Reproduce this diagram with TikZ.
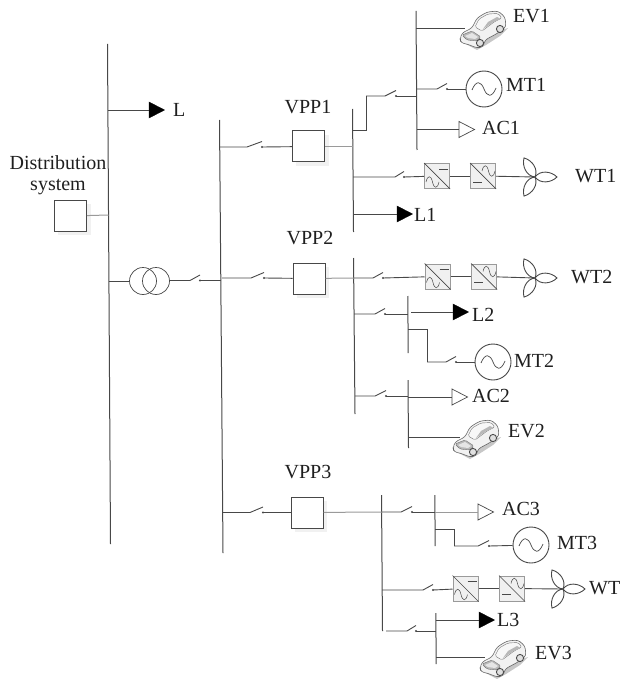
\documentclass[tikz,border=0pt]{standalone}
\usepackage{fontspec}
\setmainfont{Liberation Serif}
\usetikzlibrary{calc}
\definecolor{ln}{HTML}{484848}
\definecolor{lg}{HTML}{9A9A9A}
\definecolor{sh}{HTML}{F1F1F1}
\tikzset{
  wire/.style={draw=ln,line width=0.9pt},
  softwire/.style={draw=lg,line width=1pt},
  busbar/.style={draw=ln,line width=1pt},
  lbl/.style={inner sep=0pt,anchor=west,font=\fontsize{20}{22}\selectfont,text=black!88},
  tlbl/.style={inner sep=0pt,font=\fontsize{20}{22}\selectfont,text=black!88},
  vppbox/.style={draw=ln,line width=1pt,fill=white,minimum width=32pt,minimum height=31pt,inner sep=0pt},
  gen/.style={circle,draw=ln,line width=0.9pt,fill=white,minimum size=36pt,inner sep=0pt},
  xf/.style={circle,draw=ln,line width=0.7pt,minimum size=27pt,inner sep=0pt},
  loadtri/.style={draw=black,fill=black,line width=0.4pt},
  actri/.style={draw=ln,fill=white,line width=0.7pt},
  convbox/.style={draw=lg,line width=1pt,fill=black!6,minimum size=25pt,inner sep=0pt},
  pics/car/.style={code={
    \fill[black!22] (-22,13) -- (-7,21) -- (2,16) -- (16,7) -- (24,-1) -- (14,2) -- cycle;
    \draw[draw=black!60,fill=black!5,line width=0.6pt,rounded corners=3pt] (-24,10) -- (-22,4) -- (-12,-1) -- (-7,-11) -- (3,-17) -- (14,-18) -- (21,-12) -- (22,-2) -- (14,4) -- (1,11) -- (-1,18) -- (-7,19) -- (-17,15) -- (-23,14) -- cycle;
    \draw[draw=black!55,fill=black!3,line width=0.4pt,rounded corners=1.5pt] (-9,-2) -- (-5,-10) -- (4,-15) -- (14,-15.5) -- (18,-11) -- (10,-7) -- (2,-1) -- (-2,2) -- cycle;
    \fill[black!28] (-1,0) -- (4,-7) -- (13,-12) -- (16,-10.5) -- (8,-6) -- cycle;
    \draw[draw=black!55,fill=black!28,line width=0.4pt,rounded corners=1.5pt] (-22,6) -- (-12,2) -- (-3,8) -- (-7,12) -- (-17,11) -- cycle;
    \fill[black!10] (-19,7) -- (-12,4) -- (-6,8) -- (-9,10) -- (-16,9) -- cycle;
    \draw[draw=black!70,fill=black!12,line width=0.9pt] (-4,14) circle (3.6);
    \draw[draw=black!70,fill=black!12,line width=0.9pt] (16,0) circle (3.6);
  }},
  pics/turbine/.style={code={
    \foreach \a in {0,120,240}
      \draw[draw=ln,line width=0.9pt,rotate=\a] (0,0) .. controls (5,-7) and (16,-6) .. (22,0) .. controls (16,6) and (5,7) .. (0,0);
  }},
  pics/sinewave/.style={code={
    \draw[draw=ln,line width=0.7pt] (-12,1) .. controls (-8,-9) and (-3,-8) .. (0,0) .. controls (3,8) and (8,9) .. (12,-1);
  }}
}
% bus: name, x1,y1,x2,y2
\newcommand{\Bus}[5]{\coordinate (#1-a) at (#2,#3); \coordinate (#1-b) at (#4,#5); \draw[busbar] (#1-a) -- (#1-b);}
% switch: name, source x, contact x, end x, y
\newcommand{\Sw}[5]{%
  \coordinate (#1-j) at (#2,#5); \coordinate (#1-a) at (#3,#5); \coordinate (#1-b) at (#4,#5);
  \draw[wire] (#1-j) -- (#1-a) -- ($(#1-b)+(0,-5.5)$);
  \fill[ln] (#1-b) circle (1.1);
}
% load triangles: name, x, y, style
\newcommand{\Tri}[4]{\coordinate (#1) at (#2,#3);
  \draw[#4] (#1) ++(0,-8) -- ++(15.5,8) -- ++(-15.5,8) -- cycle;}
\newcommand{\ConvA}[3]{\node[convbox] (#1) at (#2,#3) {};
  \draw[ln,line width=0.7pt] (#1.north west) -- (#1.south east);
  \draw[ln,line width=0.7pt] ($(#1.center)+(2,-7)$) -- ++(9,0);
  \draw[ln,line width=0.5pt] ($(#1.center)+(-11,6)$) .. controls +(1.5,-7) and +(-1.5,-7) .. ++(6.5,0) .. controls +(1.5,7) and +(-1.5,7) .. ++(6.5,0);}
\newcommand{\ConvB}[3]{\node[convbox] (#1) at (#2,#3) {};
  \draw[ln,line width=0.7pt] (#1.north west) -- (#1.south east);
  \draw[ln,line width=0.7pt] ($(#1.center)+(-10,6)$) -- ++(9,0);
  \draw[ln,line width=0.5pt] ($(#1.center)+(-1,-5)$) .. controls +(1.5,-7) and +(-1.5,-7) .. ++(6.5,0) .. controls +(1.5,7) and +(-1.5,7) .. ++(6.5,0);}
\begin{document}
\begin{tikzpicture}[x=1pt,y=-1pt]
\useasboundingbox (0,0) rectangle (621,679);
% ---- main buses
\Bus{A}{107.5}{44}{110.5}{544}
\Bus{B}{219.5}{120}{223}{553}
% ---- L
\Tri{L}{149}{110}{loadtri}
\coordinate (Lj) at (108,110);
\draw[wire] (Lj) -- (L);
\node[lbl] at (173,110) {L};
% ---- distribution system
\node[tlbl] at (58,163) {Distribution};
\node[tlbl] at (58,187) {system};
\fill[sh] (58,204) rectangle (91,235);
\node[vppbox] (DS) at (70.5,216) {};
\coordinate (DSj) at (108.5,215);
\draw[softwire] (DS) -- (DSj);
% ---- transformer
\node[xf] (T1) at (143,281) {};
\node[xf] (T2) at (156,281) {};
\coordinate (Tj) at (109,281);
\draw[wire] (Tj) -- (T1.west);
\Sw{ST}{170}{190}{200}{280.5}
\coordinate (Tb) at (220.5,280.5);
\draw[wire] (ST-b) -- (Tb);
% ---- VPP boxes
\fill[sh] (296,135) rectangle (329,166);
\fill[sh] (297,267) rectangle (329,298);
\fill[sh] (295,501) rectangle (327,532);
\node[vppbox] (V1) at (308.5,146.5) {};
\node[vppbox] (V2) at (309,278.5) {};
\node[vppbox] (V3) at (307,512.5) {};
\node[tlbl] at (308,107) {VPP1};
\node[tlbl] at (310,238) {VPP2};
\node[tlbl] at (308,472) {VPP3};
\Sw{S1}{220}{247}{262}{147}
\draw[wire] (S1-b) -- (V1);
\Sw{S2}{222}{251}{264}{278}
\draw[wire] (S2-b) -- (V2);
\Sw{S3}{223}{250}{263}{512.5}
\draw[wire] (S3-b) -- (V3);
% ---- VPP1
\Bus{P1}{352.5}{109}{353.5}{232}
\coordinate (V1o) at (353,146.5);
\draw[softwire] (V1) -- (V1o);
\Bus{Q1}{416}{11}{417}{150}
% EV1
\coordinate (EV1j) at (416,28);
\coordinate (car1e) at (465,28);
\draw[wire] (EV1j) -- (car1e);
\pic (car1) at (484,29) {car};
\node[lbl] at (513,16) {EV1};
% feeder to Q1
\coordinate (F1a) at (353,130);
\coordinate (F1b) at (366,130);
\coordinate (F1c) at (366,96);
\Sw{S1Q}{366}{385}{396}{96}
\coordinate (F1d) at (416,96);
\draw[wire] (F1a) -- (F1b) -- (F1c);
\draw[wire] (S1Q-b) -- (F1d);
% MT1
\node[gen] (MT1) at (484,89) {};
\pic at (484,89) {sinewave};
\Sw{SM1}{416}{437}{447}{89}
\draw[wire] (SM1-b) -- (MT1);
\node[lbl] at (506,85) {MT1};
% AC1
\Tri{AC1}{459}{129.5}{actri}
\coordinate (AC1j) at (417,129.5);
\draw[wire] (AC1j) -- (AC1);
\node[lbl] at (482,128) {AC1};
% WT1
\Sw{SW1}{353}{395}{404}{177}
\ConvA{C1a}{437}{176}
\ConvB{C1b}{483}{176}
\coordinate (H1) at (535,177);
\draw[wire] (SW1-b) -- (C1a);
\draw[wire] (C1a) -- (C1b);
\draw[wire] (C1b) -- (H1);
\pic at (H1) {turbine};
\node[lbl] at (575,176) {WT1};
% L1
\Tri{L1}{397}{214}{loadtri}
\coordinate (L1j) at (353,214);
\draw[wire] (L1j) -- (L1);
\node[lbl] at (414,215) {L1};
% ---- VPP2
\Bus{P2}{353.5}{258}{355}{414}
\Sw{SW2}{354}{373}{383}{278}
\draw[softwire] (V2) -- (SW2-j);
\ConvA{C2a}{437.5}{276.5}
\ConvB{C2b}{484}{276.5}
\coordinate (H2) at (535,278);
\draw[wire] (SW2-b) -- (C2a);
\draw[wire] (C2a) -- (C2b);
\draw[wire] (C2b) -- (H2);
\pic at (H2) {turbine};
\node[lbl] at (571,277) {WT2};
% L2
\Sw{SL2}{354}{375}{385}{314}
\Bus{Q2}{407.8}{296}{408.2}{353}
\coordinate (Q2j) at (408,314);
\draw[wire] (SL2-b) -- (Q2j);
\Tri{L2}{453}{312}{loadtri}
\coordinate (L2j) at (411,312);
\draw[wire] (L2j) -- (L2);
\node[lbl] at (472,315) {L2};
% MT2
\coordinate (F2a) at (408,329);
\coordinate (F2b) at (427,329);
\Sw{SM2}{427}{446}{456}{362}
\draw[wire] (F2a) -- (F2b) -- (SM2-j);
\node[gen] (MT2) at (493,362) {};
\pic at (493,362) {sinewave};
\draw[wire] (SM2-b) -- (MT2);
\node[lbl] at (514,361) {MT2};
% AC2
\Sw{SA2}{355}{375}{386}{396}
\Bus{R2}{408}{380}{408.5}{448}
\coordinate (R2j) at (408,396);
\draw[wire] (SA2-b) -- (R2j);
\Tri{AC2}{452}{397}{actri}
\coordinate (AC2j) at (408,397);
\draw[wire] (AC2j) -- (AC2);
\node[lbl] at (472,396) {AC2};
% EV2
\coordinate (EV2j) at (408.5,437);
\coordinate (car2e) at (460,437);
\draw[wire] (EV2j) -- (car2e);
\pic (car2) at (477,438) {car};
\node[lbl] at (508,431) {EV2};
% ---- VPP3
\Bus{P3}{381.5}{495}{382.5}{631}
\Sw{SA3}{382}{401}{412}{512}
\draw[softwire] (V3) -- (SA3-j);
\Bus{Q3}{434.8}{495}{435.2}{546}
\coordinate (Q3j) at (435,512);
\draw[wire] (SA3-b) -- (Q3j);
\Tri{AC3}{478}{512}{actri}
\draw[softwire] (Q3j) -- (AC3);
\node[lbl] at (502,509) {AC3};
% MT3
\coordinate (F3a) at (435,529);
\coordinate (F3b) at (454,529);
\Sw{SM3}{454}{478}{489}{546}
\draw[wire] (F3a) -- (F3b) -- (SM3-j);
\node[gen] (MT3) at (531,545) {};
\pic at (531,545) {sinewave};
\draw[wire] (SM3-b) -- (MT3);
\node[lbl] at (557,543) {MT3};
% WT3
\Sw{SW3}{382}{423}{433}{590}
\ConvA{C3a}{465.5}{588.5}
\ConvB{C3b}{512}{588.5}
\coordinate (H3) at (563,589);
\draw[wire] (SW3-b) -- (C3a);
\draw[wire] (C3a) -- (C3b);
\draw[wire] (C3b) -- (H3);
\pic at (H3) {turbine};
\node[lbl] at (589,588) {WT};
% L3
\Sw{SL3}{386}{407}{416}{631}
\Bus{Q3b}{435.8}{613}{436.2}{664}
\coordinate (Q3c) at (436,631);
\draw[wire] (SL3-b) -- (Q3c);
\Tri{L3}{479}{620}{loadtri}
\coordinate (L3j) at (436,620);
\draw[wire] (L3j) -- (L3);
\node[lbl] at (497,620) {L3};
% EV3
\coordinate (EV3j) at (436,657);
\coordinate (car3e) at (485,657);
\draw[wire] (EV3j) -- (car3e);
\pic (car3) at (504,658) {car};
\node[lbl] at (535,653) {EV3};
\end{tikzpicture}
\end{document}
